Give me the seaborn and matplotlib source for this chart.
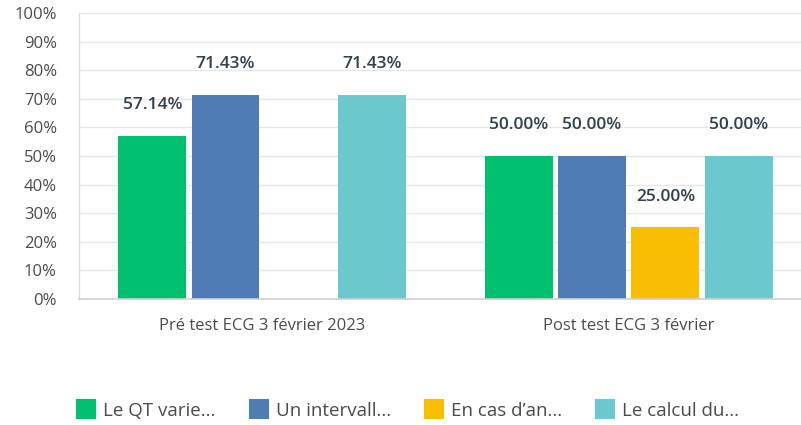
import matplotlib
matplotlib.use("Agg")
import matplotlib.pyplot as plt
from matplotlib.lines import Line2D
import pandas as pd
import seaborn as sns

groups = ["Pré test ECG 3 février 2023", "Post test ECG 3 février"]
series = ["Le QT varie...", "Un intervall...", "En cas d\u2019an...", "Le calcul du..."]
pre_values = [57.14, 71.43, 0.0, 71.43]
post_values = [50.00, 50.00, 25.00, 50.00]
colors = ["#00BF6F", "#507CB6", "#F9BE00", "#6BC8CD"]
yticks = list(range(0, 101, 10))

rows = []
for s, v in zip(series, pre_values):
    rows.append({"group": groups[0], "series": s, "value": v})
for s, v in zip(series, post_values):
    rows.append({"group": groups[1], "series": s, "value": v})
df = pd.DataFrame(rows)

sns.set_theme(style="white")
plt.rcParams["font.family"] = ["Open Sans", "DejaVu Sans"]

fig = plt.figure(figsize=(8.01, 4.25), dpi=100)
ax = fig.add_axes([0.0986, 0.2965, 0.9014, 0.6729])

sns.barplot(data=df, x="group", y="value", hue="series", order=groups,
            hue_order=series, palette=colors, width=0.8, gap=0.075,
            linewidth=0, errorbar=None, legend=False, ax=ax, saturation=1)

# value labels above the bars
for container in ax.containers:
    for bar in container:
        h = bar.get_height()
        if h <= 0:
            continue
        ax.annotate(f"{h:.2f}%", (bar.get_x() + bar.get_width() / 2, h),
                    xytext=(0, 22), textcoords="offset points",
                    ha="center", va="center", fontsize=12.5, fontweight="semibold",
                    color="#333E48")

ax.set_ylim(0, 100)
ax.set_xlim(-0.5, 1.47)
ax.set_yticks(yticks)
ax.set_yticklabels([f"{t}%" for t in yticks])
ax.yaxis.grid(True, color="#E6E6E6", linewidth=1)
ax.set_axisbelow(True)
ax.set_xlabel("")
ax.set_ylabel("")
ax.tick_params(axis="y", length=0, pad=16, labelsize=12, labelcolor="#4A4A4A")
ax.tick_params(axis="x", length=0, pad=14, labelsize=12, labelcolor="#4A4A4A")
for side in ["top", "right"]:
    ax.spines[side].set_visible(False)
ax.spines["left"].set_color("#DCDCDC")
ax.spines["bottom"].set_color("#CFCFCF")
ax.spines["left"].set_linewidth(1)
ax.spines["bottom"].set_linewidth(1.2)

handles = [Line2D([0], [0], marker="s", linestyle="", markersize=13,
                  markerfacecolor=c, markeredgecolor=c, markeredgewidth=1.5)
           for c in colors]
leg = fig.legend(handles, series, loc="center", bbox_to_anchor=(0.51, 0.033),
                 ncol=4, frameon=False, fontsize=13.5, handlelength=0.9,
                 handletextpad=0.45, columnspacing=1.85)
for t in leg.get_texts():
    t.set_color("#4A4A4A")

fig.savefig("out.png", dpi=100)
